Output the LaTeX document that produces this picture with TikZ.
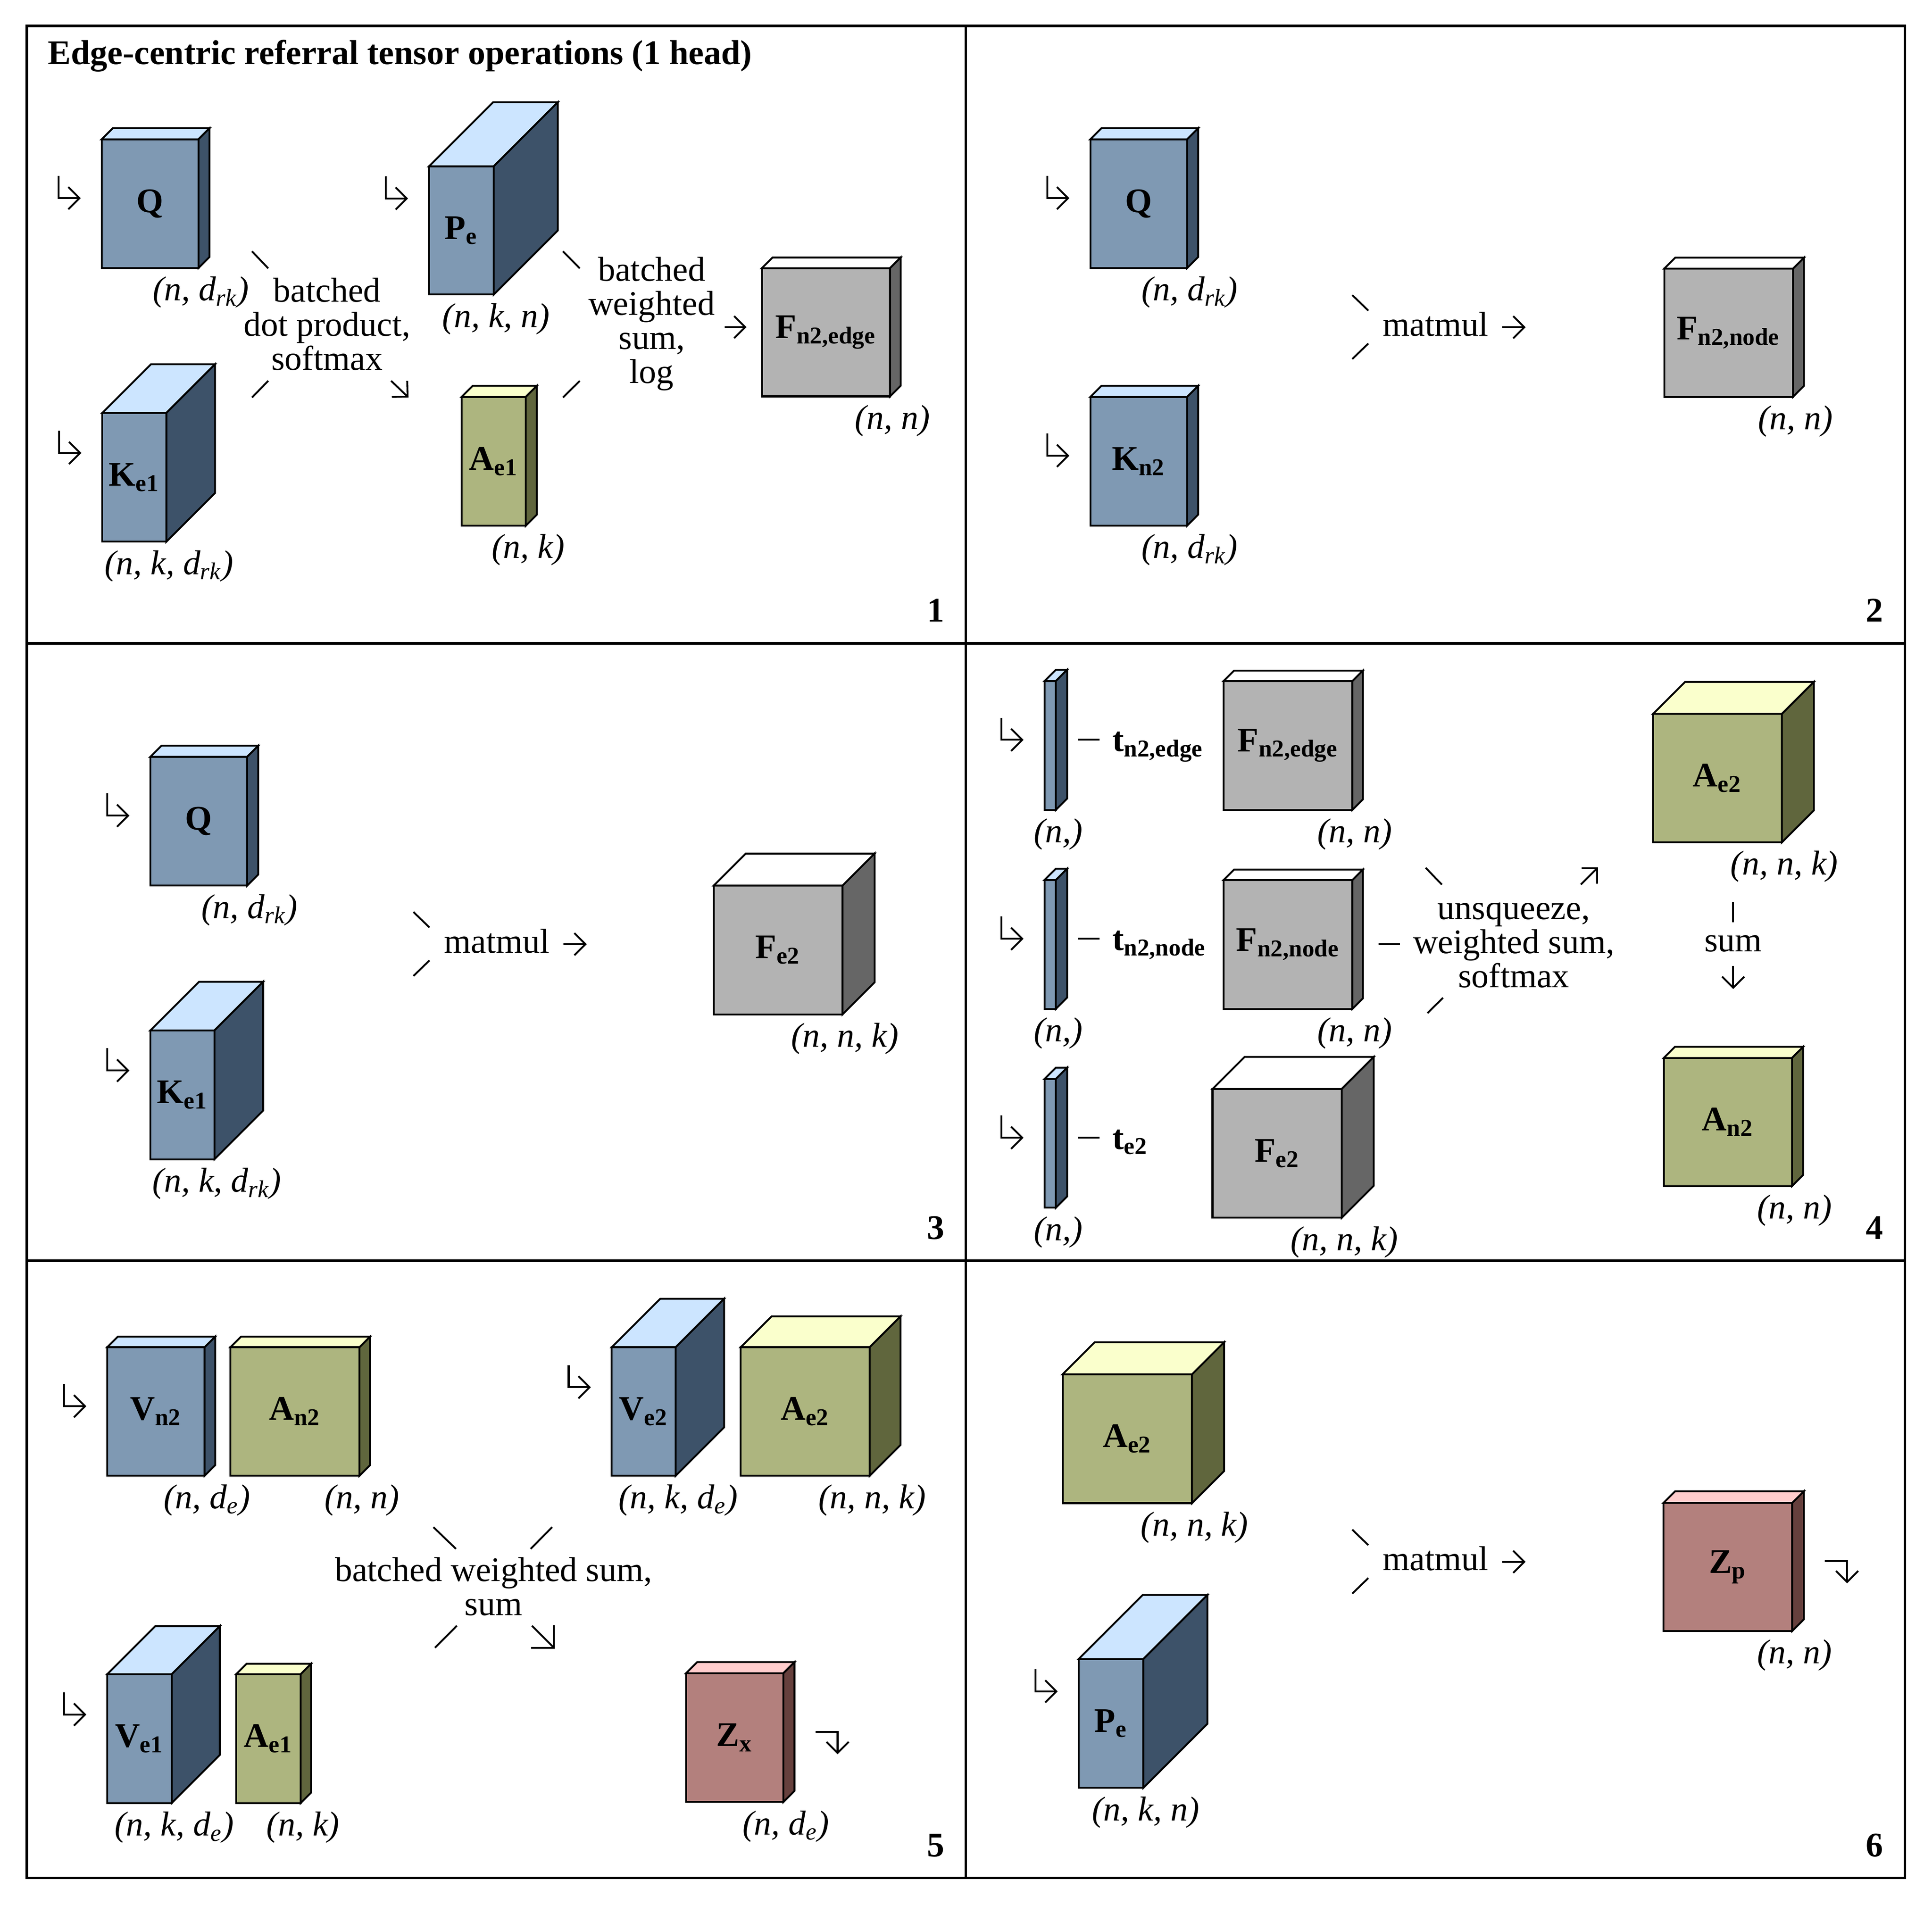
\documentclass[tikz,border=0pt]{standalone}
\usepackage{fontspec}
\setmainfont{Liberation Serif}
\usetikzlibrary{calc,arrows.meta}

\definecolor{bluefront}{RGB}{127,153,179}
\definecolor{bluetop}{RGB}{204,229,255}
\definecolor{blueside}{RGB}{61,82,105}
\definecolor{olivefront}{RGB}{173,181,127}
\definecolor{olivetop}{RGB}{250,255,204}
\definecolor{oliveside}{RGB}{96,102,61}
\definecolor{grayfront}{RGB}{179,179,179}
\definecolor{graytop}{RGB}{255,255,255}
\definecolor{grayside}{RGB}{102,102,102}
\definecolor{rosefront}{RGB}{179,128,125}
\definecolor{rosetop}{RGB}{255,204,204}
\definecolor{roseside}{RGB}{102,64,61}

\tikzset{
  tensorface/.style={draw, line width=0.75pt, outer sep=0pt, inner sep=0pt, font=\bfseries},
  tensoredge/.style={draw, line width=0.75pt},
  dims/.style={font=\itshape, inner sep=0pt, anchor=base},
  optext/.style={align=center, inner sep=0pt},
  opstroke/.style={line width=0.75pt},
  arr/.style={line width=0.75pt, -{Straight Barb[length=4.5pt,width=9pt]}},
  bigarr/.style={line width=0.75pt, -{Straight Barb[length=6.5pt,width=13pt]}},
  panelline/.style={line width=1pt},
}

\newcommand{\tensorbox}[8]{%
  \node[tensorface, fill=#6front, anchor=north west,
        minimum width=#3*0.5pt, minimum height=#4*0.5pt] (#1) at (#2) {#7};
  \draw[tensoredge, fill=#6top] (#1.north west) -- ++(#5,-#5) -- ++(#3,0) -- (#1.north east) -- cycle;
  \draw[tensoredge, fill=#6side] (#1.north east) -- ++(#5,-#5) -- ++(0,#4) -- (#1.south east) -- cycle;
  \node[dims] (#1-dims) at ($(#1.south east)+(2,26.5)$) {#8};
}
\newcommand{\feedarrow}[2]{%
  \draw[arr] ($(#1.west)+(-35,-#2/2-18)$) |- ($(#1.west)+(-17,-#2/2)$);
}
\newcommand{\outarrow}[2]{%
  \draw[arr] ($(#1.east)+(#2+17,-#2/2)$) -| ($(#1.east)+(#2+35,-#2/2+18)$);
}
\newcommand{\tlabel}[2]{%
  \draw[opstroke] ($(#1.east)+(18.2,-4.6)$) -- ++(17.4,0);
  \node[anchor=base west, inner sep=0pt, font=\bfseries] (#1-name) at ($(#1.east)+(45.5,4.6)$) {#2};
}
\newcommand{\matmulop}[2]{%
  \node[optext] (#1) at (#2) {matmul};
  \draw[opstroke] ($(#1)+(-67.6,-23.5)$) -- ++(13,12.6);
  \draw[opstroke] ($(#1)+(-67.6,28.4)$) -- ++(13,-12.6);
  \draw[arr] ($(#1)+(54,2.6)$) -- ++(19,0);
}

\begin{document}
\fontsize{14}{13.8}\selectfont
\begin{tikzpicture}[x=0.5pt, y=-0.5pt]
  \useasboundingbox (0,0) rectangle (1567.3,1545.5);
  \draw[panelline] (21.7,21) rectangle (1545.4,1523.7);
  \draw[panelline] (783.5,21) -- (783.5,1523.7);
  \draw[panelline] (21.7,521.9) -- (1545.4,521.9);
  \draw[panelline] (21.7,1022.8) -- (1545.4,1022.8);
  \node[anchor=base west, inner sep=0pt, font=\bfseries] (title) at (38.5,52) {Edge-centric referral tensor operations (1 head)};
  \foreach \num/\px/\py in {1/766.5/504.6, 2/1528/504.6, 3/766.5/1005.5, 4/1528/1005.5, 5/766.5/1506.4, 6/1528/1506.4}
    \node[anchor=base east, inner sep=0pt, font=\bfseries] (panel\num) at (\px,\py) {\num};

  \tensorbox{Qa}{82.5,113}{78.5}{104.5}{9}{blue}{Q}{(n, d\textsubscript{rk})}
  \tensorbox{Kea}{83,335}{52}{104.5}{39.5}{blue}{K\textsubscript{e1}}{(n, k, d\textsubscript{rk})}
  \tensorbox{Pea}{348,135}{52.5}{104}{52}{blue}{P\textsubscript{e}}{(n, k, n)}
  \tensorbox{Aea}{374.5,322}{52}{104.5}{9}{olive}{A\textsubscript{e1}}{(n, k)}
  \tensorbox{Fa}{618,217.6}{104}{104}{8.7}{gray}{F\textsubscript{n2,edge}}{(n, n)}
  \feedarrow{Qa}{9}
  \feedarrow{Kea}{39.5}
  \feedarrow{Pea}{52}
  \node[optext] (dotop) at (265.3,262.9) {batched\\dot product,\\softmax};
  \draw[opstroke] ($(dotop)+(-60.9,-59)$) -- ++(13.2,13.8);
  \draw[opstroke] ($(dotop)+(-60.9,59.6)$) -- ++(13.2,-13.5);
  \draw[arr] ($(dotop)+(52,46.1)$) -- ++(14.1,13.5);
  \node[optext] (wsumop) at (528.7,262.8) {batched\\weighted\\sum,\\log};
  \draw[opstroke] ($(wsumop)+(-72,-58.9)$) -- ++(13.6,13.8);
  \draw[opstroke] ($(wsumop)+(-72,59.7)$) -- ++(13.6,-13.5);
  \draw[arr] ($(wsumop)+(59.2,2.6)$) -- ++(17.7,0);

  \tensorbox{Qb}{884.5,113}{78.5}{104.5}{9}{blue}{Q}{(n, d\textsubscript{rk})}
  \tensorbox{Knb}{884.5,322}{78.5}{104.5}{9}{blue}{K\textsubscript{n2}}{(n, d\textsubscript{rk})}
  \tensorbox{Fb}{1350,218}{104.5}{104}{9}{gray}{F\textsubscript{n2,node}}{(n, n)}
  \feedarrow{Qb}{9}
  \feedarrow{Knb}{9}
  \matmulop{mmb}{1164.6,262.9}

  \tensorbox{Qc}{122,614}{78.5}{104.5}{9}{blue}{Q}{(n, d\textsubscript{rk})}
  \tensorbox{Kec}{122,836}{52}{104.5}{39.5}{blue}{K\textsubscript{e1}}{(n, k, d\textsubscript{rk})}
  \tensorbox{Fc}{579,718.5}{104.5}{104.5}{26}{gray}{F\textsubscript{e2}}{(n, n, k)}
  \feedarrow{Qc}{9}
  \feedarrow{Kec}{39.5}
  \matmulop{mmc}{403,763.4}

  \tensorbox{tne}{847.3,552.6}{9.2}{104.5}{9.2}{blue}{}{(n,)}
  \tensorbox{Fned}{992.6,552.6}{104.5}{104.5}{8.5}{gray}{F\textsubscript{n2,edge}}{(n, n)}
  \tensorbox{tnn}{847.3,714}{9.2}{104.5}{9.2}{blue}{}{(n,)}
  \tensorbox{Fnnd}{992.6,714}{104.5}{104.5}{8.5}{gray}{F\textsubscript{n2,node}}{(n, n)}
  \tensorbox{tee}{847.3,875.4}{9.2}{104.5}{9.2}{blue}{}{(n,)}
  \tensorbox{Fed}{983.6,883.5}{104.8}{104.5}{26}{gray}{F\textsubscript{e2}}{(n, n, k)}
  \tensorbox{Aed}{1341,579.2}{104.5}{104.2}{26}{olive}{A\textsubscript{e2}}{(n, n, k)}
  \tensorbox{And}{1349.7,858.3}{104}{104}{9}{olive}{A\textsubscript{n2}}{(n, n)}
  \feedarrow{tne}{9.2}
  \feedarrow{tnn}{9.2}
  \feedarrow{tee}{9.2}
  \tlabel{tne}{t\textsubscript{n2,edge}}
  \tlabel{tnn}{t\textsubscript{n2,node}}
  \tlabel{tee}{t\textsubscript{e2}}
  \node[optext] (softop) at (1228,767) {unsqueeze,\\weighted sum,\\softmax};
  \draw[opstroke] ($(softop)+(-109.7,-1)$) -- ++(17.3,0);
  \draw[opstroke] ($(softop)+(-71.5,-63)$) -- ++(13.2,13.7);
  \draw[opstroke] ($(softop)+(-70,55)$) -- ++(12.6,-12.5);
  \draw[arr] ($(softop)+(54.4,-49.4)$) -- ++(14,-14);
  \node[optext] (sumop) at (1406,765.4) {sum};
  \draw[opstroke] ($(sumop)+(0,-33.8)$) -- ++(0,16.6);
  \draw[arr] ($(sumop)+(0,18.2)$) -- ++(0,18.8);

  \tensorbox{Vne}{87,1093}{79}{104.3}{8.6}{blue}{V\textsubscript{n2}}{(n, d\textsubscript{e})}
  \tensorbox{Ane}{187,1093}{104.6}{104.3}{8.6}{olive}{A\textsubscript{n2}}{(n, n)}
  \tensorbox{Vee}{496.3,1093}{51.8}{104.3}{39.3}{blue}{V\textsubscript{e2}}{(n, k, d\textsubscript{e})}
  \tensorbox{Aee}{600.9,1093}{104.6}{104.3}{25}{olive}{A\textsubscript{e2}}{(n, n, k)}
  \tensorbox{Vle}{87,1358.3}{52.3}{104.5}{39}{blue}{V\textsubscript{e1}}{(n, k, d\textsubscript{e})}
  \tensorbox{Ale}{191.6,1358.3}{52.3}{104.5}{8.5}{olive}{A\textsubscript{e1}}{(n, k)}
  \tensorbox{Zx}{556.5,1357.5}{79}{104.5}{9}{rose}{Z\textsubscript{x}}{(n, d\textsubscript{e})}
  \feedarrow{Vne}{8.6}
  \feedarrow{Vee}{39.3}
  \feedarrow{Vle}{39}
  \outarrow{Zx}{9}
  \node[optext] (bwsop) at (400.4,1287) {batched weighted sum,\\sum};
  \draw[opstroke] ($(bwsop)+(-48.8,-48)$) -- ++(18.3,17.6);
  \draw[opstroke] ($(bwsop)+(30.1,-30.4)$) -- ++(17.4,-17.6);
  \draw[opstroke] ($(bwsop)+(-47.5,49.8)$) -- ++(17.7,-17.8);
  \draw[bigarr] ($(bwsop)+(31.1,32)$) -- ++(18.5,18.5);

  \tensorbox{Aef}{862,1115}{105}{104.5}{26}{olive}{A\textsubscript{e2}}{(n, n, k)}
  \tensorbox{Pef}{875,1346}{52.5}{104.5}{52}{blue}{P\textsubscript{e}}{(n, k, n)}
  \tensorbox{Zp}{1349.4,1219.4}{104.5}{103.8}{9.5}{rose}{Z\textsubscript{p}}{(n, n)}
  \feedarrow{Pef}{52}
  \outarrow{Zp}{9.5}
  \matmulop{mmf}{1164.6,1264.5}
\end{tikzpicture}
\end{document}
